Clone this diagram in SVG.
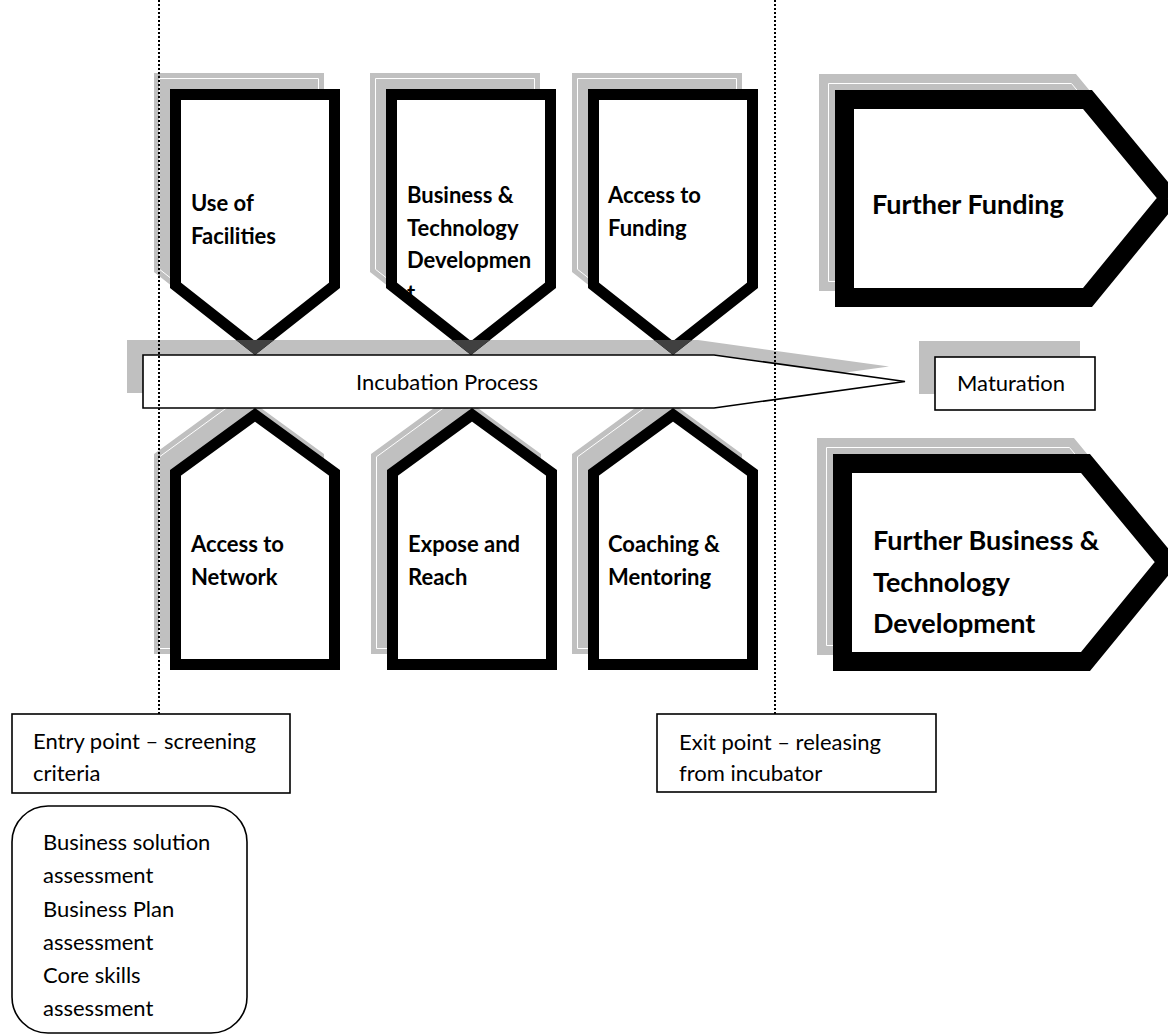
<svg xmlns="http://www.w3.org/2000/svg" xmlns:xlink="http://www.w3.org/1999/xlink" width="1168" height="1036" viewBox="0 0 1168 1036">
  <style>
    .t{font-family:Lato,"Liberation Sans",sans-serif;fill:#000}
    .b{font-weight:700;font-size:22px}
    .bb{font-weight:700;font-size:27px}
    .r{font-weight:400;font-size:22px}
    .sh{fill:#c0c0c0;stroke:#c0c0c0}
    .shl{fill:none;stroke:#fff;stroke-width:1}
    .frm{fill:#fff;stroke:#000;stroke-linejoin:miter;stroke-miterlimit:10}
    .thin{stroke-width:11}
    .thick{stroke-width:19}
    .tip{fill:#404040;stroke:#404040;stroke-width:11}
    .box{fill:#fff;stroke:#000;stroke-width:1.6}
    .dots{stroke:#000;stroke-width:2;stroke-dasharray:2 2;fill:none}
  </style>
  <defs>
    <!-- pentagon pointing down, stroke centre line, outer box 170 x 266 -->
    <path id="dn" d="M5.5,5.5 H164.5 V196.3 L85,259 L5.5,196.3 Z"/>
    <!-- pentagon pointing up, outer box 170 x 262 -->
    <path id="up" d="M5.5,256.5 V64.8 L85,6.8 L164.5,64.8 V256.5 Z"/>
    <!-- wide arrow pointing right, outer box starts at 0,0 -->
    <path id="rt" d="M9.5,9.5 H252.5 L334,108 L252.5,207.5 H9.5 Z"/>
    <polygon id="barShape" points="143,355 714,355 905,381.5 714,408 143,408"/>
    <clipPath id="barShadowClip">
      <polygon points="127,340 698,340 889,366.5 698,393 127,393"/>
    </clipPath>
  </defs>

  <!-- shadow under the process bar -->
  <g id="incubation-shadow">
    <use xlink:href="#barShape" href="#barShape" fill="#c0c0c0" transform="translate(-16,-15)"/>
  </g>

  <!-- upper row -->
  <g id="node-use-of-facilities">
    <g transform="translate(154,73)"><use href="#dn" class="sh thin"/><use href="#dn" class="shl"/></g>
    <use href="#dn" class="frm thin" transform="translate(170,89)"/>
    <text class="t b" x="191" y="211">Use of</text>
    <text class="t b" x="191" y="244">Facilities</text>
  </g>

  <g id="node-business-technology">
    <g transform="translate(370,73)"><use href="#dn" class="sh thin"/><use href="#dn" class="shl"/></g>
    <use href="#dn" fill="#fff" transform="translate(386,89)"/>
    <text class="t b" x="407" y="203">Business &amp;</text>
    <text class="t b" x="407" y="236">Technology</text>
    <text class="t b" x="407" y="268">Developmen</text>
    <text class="t b" x="407" y="301">t</text>
    <use href="#dn" class="frm thin" fill="none" style="fill:none" transform="translate(386,89)"/>
  </g>

  <g id="node-access-funding">
    <g transform="translate(572,73)"><use href="#dn" class="sh thin"/><use href="#dn" class="shl"/></g>
    <use href="#dn" class="frm thin" transform="translate(588,89)"/>
    <text class="t b" x="608" y="203">Access to</text>
    <text class="t b" x="608" y="236">Funding</text>
  </g>

  <!-- lower row -->
  <g id="node-access-network">
    <g transform="translate(154,392)"><use href="#up" class="sh thin"/><use href="#up" class="shl"/></g>
    <use href="#up" class="frm thin" transform="translate(170,408)"/>
    <text class="t b" x="191" y="552">Access to</text>
    <text class="t b" x="191" y="585">Network</text>
  </g>

  <g id="node-expose-reach">
    <g transform="translate(371,392)"><use href="#up" class="sh thin"/><use href="#up" class="shl"/></g>
    <use href="#up" class="frm thin" transform="translate(387,408)"/>
    <text class="t b" x="408" y="552">Expose and</text>
    <text class="t b" x="408" y="585">Reach</text>
  </g>

  <g id="node-coaching-mentoring">
    <g transform="translate(572,392)"><use href="#up" class="sh thin"/><use href="#up" class="shl"/></g>
    <use href="#up" class="frm thin" transform="translate(588,408)"/>
    <text class="t b" x="608" y="552">Coaching &amp;</text>
    <text class="t b" x="608" y="585">Mentoring</text>
  </g>

  <!-- right-hand outcomes -->
  <g id="node-further-funding">
    <g transform="translate(819,74)"><use href="#rt" class="sh thick"/><use href="#rt" class="shl"/></g>
    <use href="#rt" class="frm thick" transform="translate(835,90)"/>
    <text class="t bb" x="872" y="214">Further Funding</text>
  </g>

  <g id="node-further-development">
    <g transform="translate(817,438)"><use href="#rt" class="sh thick"/><use href="#rt" class="shl"/></g>
    <use href="#rt" class="frm thick" transform="translate(833,454)"/>
    <text class="t bb" x="873" y="550">Further Business &amp;</text>
    <text class="t bb" x="873" y="592">Technology</text>
    <text class="t bb" x="873" y="633">Development</text>
  </g>

  <!-- where the downward tips cross the bar shadow -->
  <g id="tip-overlap" clip-path="url(#barShadowClip)">
    <use href="#dn" class="tip" transform="translate(170,89)"/>
    <use href="#dn" class="tip" transform="translate(386,89)"/>
    <use href="#dn" class="tip" transform="translate(588,89)"/>
  </g>

  <g id="node-incubation-process">
    <use href="#barShape" class="box" stroke-width="1.6"/>
    <text class="t r" x="356" y="390">Incubation Process</text>
  </g>

  <g id="node-maturation">
    <rect x="919" y="341" width="161" height="53" fill="#c0c0c0"/>
    <rect x="935" y="357" width="160" height="53" class="box"/>
    <text class="t r" x="957" y="391">Maturation</text>
  </g>

  <g id="connectors">
    <line class="dots" x1="159" y1="0" x2="159" y2="714"/>
    <line class="dots" x1="775" y1="0" x2="775" y2="714"/>
  </g>

  <g id="node-entry-point">
    <rect x="12" y="714" width="278" height="79" class="box"/>
    <text class="t r" x="33" y="749">Entry point – screening</text>
    <text class="t r" x="33" y="781">criteria</text>
  </g>

  <g id="node-exit-point">
    <rect x="657" y="714" width="279" height="78" class="box"/>
    <text class="t r" x="679" y="750">Exit point – releasing</text>
    <text class="t r" x="679" y="781">from incubator</text>
  </g>

  <g id="node-screening-criteria">
    <rect x="12" y="806" width="235" height="227" rx="36" ry="36" class="box"/>
    <text class="t r" x="43" y="850">Business solution</text>
    <text class="t r" x="43" y="883">assessment</text>
    <text class="t r" x="43" y="917">Business Plan</text>
    <text class="t r" x="43" y="950">assessment</text>
    <text class="t r" x="43" y="983">Core skills</text>
    <text class="t r" x="43" y="1016">assessment</text>
  </g>
</svg>
